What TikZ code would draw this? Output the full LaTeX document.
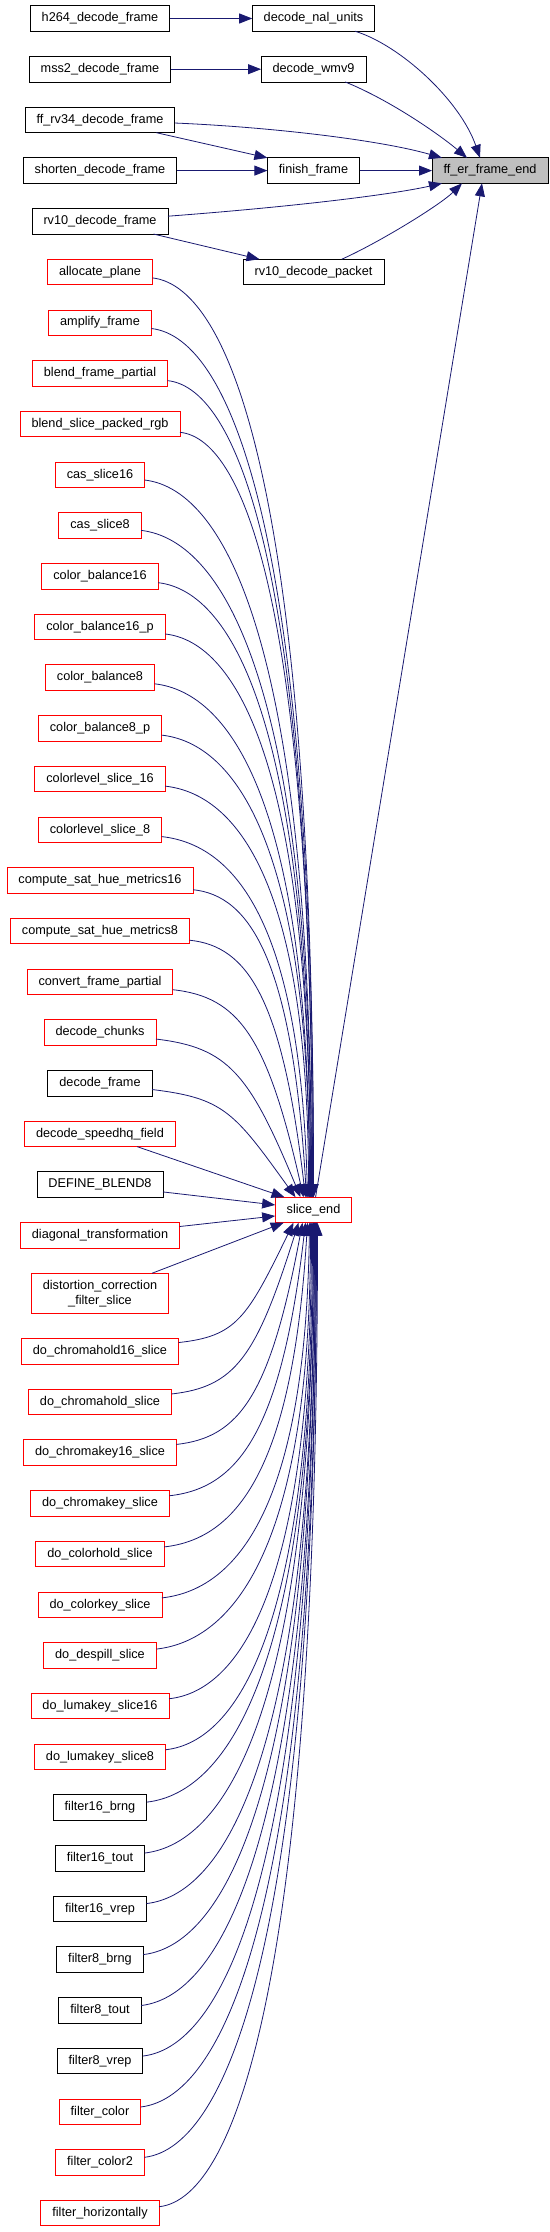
\documentclass[tikz,border=0pt]{standalone}
\usepackage{fontspec}
\setmainfont{Liberation Sans}
\usepackage{xcolor}
\definecolor{edgeblue}{HTML}{191970}
\definecolor{rootgrey}{HTML}{BFBFBF}
\definecolor{trunc}{HTML}{FF0000}
\usepackage{tikz}
\usetikzlibrary{positioning, calc, arrows.meta}

\begin{document}
\begin{tikzpicture}[
    x=1pt, y=1pt,
    node distance=25.2pt,
    func/.style={rectangle, draw=black, fill=white, line width=0.9pt, outer sep=0pt, inner xsep=11.5pt, minimum height=25.5pt, font=\fontsize{12.7}{15.2}\selectfont},
    funcred/.style={func, draw=trunc},
    rootfunc/.style={func, fill=rootgrey},
    callarrow/.style={-{Triangle[length=13pt, width=10pt]}, line width=0.8pt, edgeblue}
  ]
  \useasboundingbox (0,0) rectangle (549,-2232);
  \coordinate (midcol) at (313.5,0);
  \coordinate (rightcol) at (490,0);

  % Left column
  \node[func] (h264) at (100,-18.5) {h264\_decode\_frame};
  \node[func, below=of h264] (mss2) {mss2\_decode\_frame};
  \node[func, below=of mss2] (rv34) {ff\_rv34\_decode\_frame};
  \node[func, below=of rv34] (shorten) {shorten\_decode\_frame};
  \node[func, below=of shorten] (rv10frame) {rv10\_decode\_frame};
  \node[funcred, below=of rv10frame] (allocplane) {allocate\_plane};
  \node[funcred, below=of allocplane] (amplify) {amplify\_frame};
  \node[funcred, below=of amplify] (blendframe) {blend\_frame\_partial};
  \node[funcred, below=of blendframe] (blendslice) {blend\_slice\_packed\_rgb};
  \node[funcred, below=of blendslice] (cas16) {cas\_slice16};
  \node[funcred, below=of cas16] (cas8) {cas\_slice8};
  \node[funcred, below=of cas8] (cb16) {color\_balance16};
  \node[funcred, below=of cb16] (cb16p) {color\_balance16\_p};
  \node[funcred, below=of cb16p] (cb8) {color\_balance8};
  \node[funcred, below=of cb8] (cb8p) {color\_balance8\_p};
  \node[funcred, below=of cb8p] (cl16) {colorlevel\_slice\_16};
  \node[funcred, below=of cl16] (cl8) {colorlevel\_slice\_8};
  \node[funcred, below=of cl8] (sat16) {compute\_sat\_hue\_metrics16};
  \node[funcred, below=of sat16] (sat8) {compute\_sat\_hue\_metrics8};
  \node[funcred, below=of sat8] (convframe) {convert\_frame\_partial};
  \node[funcred, below=of convframe] (chunks) {decode\_chunks};
  \node[func, below=of chunks] (decframe) {decode\_frame};
  \node[funcred, below=of decframe] (speedhq) {decode\_speedhq\_field};
  \node[func, below=of speedhq] (blend8) {DEFINE\_BLEND8};
  \node[funcred, below=of blend8] (diagtrans) {diagonal\_transformation};
  \node[funcred, below=of diagtrans, align=center, minimum height=40pt] (distort) {distortion\_correction\\\_filter\_slice};
  \node[funcred, below=of distort] (chromahold16) {do\_chromahold16\_slice};
  \node[funcred, below=of chromahold16] (chromahold) {do\_chromahold\_slice};
  \node[funcred, below=of chromahold] (chromakey16) {do\_chromakey16\_slice};
  \node[funcred, below=of chromakey16] (chromakey) {do\_chromakey\_slice};
  \node[funcred, below=of chromakey] (colorhold) {do\_colorhold\_slice};
  \node[funcred, below=of colorhold] (colorkey) {do\_colorkey\_slice};
  \node[funcred, below=of colorkey] (despill) {do\_despill\_slice};
  \node[funcred, below=of despill] (lumakey16) {do\_lumakey\_slice16};
  \node[funcred, below=of lumakey16] (lumakey8) {do\_lumakey\_slice8};
  \node[func, below=of lumakey8] (fbrng16) {filter16\_brng};
  \node[func, below=of fbrng16] (ftout16) {filter16\_tout};
  \node[func, below=of ftout16] (fvrep16) {filter16\_vrep};
  \node[func, below=of fvrep16] (fbrng8) {filter8\_brng};
  \node[func, below=of fbrng8] (ftout8) {filter8\_tout};
  \node[func, below=of ftout8] (fvrep8) {filter8\_vrep};
  \node[funcred, below=of fvrep8] (fcolor) {filter\_color};
  \node[funcred, below=of fcolor] (fcolor2) {filter\_color2};
  \node[funcred, below=of fcolor2] (fhoriz) {filter\_horizontally};

  % Middle and right columns
  \node[func] (decnal) at (h264 -| midcol) {decode\_nal\_units};
  \node[func] (wmv9) at (mss2 -| midcol) {decode\_wmv9};
  \node[func] (finish) at (shorten -| midcol) {finish\_frame};
  \node[func] (rv10pkt) at (allocplane -| midcol) {rv10\_decode\_packet};
  \coordinate (slicemid) at ($(blend8)!0.5!(diagtrans)$);
  \node[funcred] (sliceend) at (slicemid -| midcol) {slice\_end};
  \node[rootfunc] (ererend) at (shorten -| rightcol) {ff\_er\_frame\_end};

  % Calls into ff_er_frame_end
  \draw[callarrow] (h264) -- (decnal);
  \draw[callarrow] (decnal) .. controls (400,-45) and (460,-100) .. ([xshift=-10]ererend.north);
  \draw[callarrow] (mss2) -- (wmv9);
  \draw[callarrow] (wmv9) .. controls (390,-100) and (440,-135) .. ([xshift=-23]ererend.north);
  \draw[callarrow] (rv34) .. controls (270,-127) and (380,-140) .. ([xshift=-48]ererend.north);
  \draw[callarrow] (rv34) -- (finish.north west);
  \draw[callarrow] (shorten) -- (finish);
  \draw[callarrow] (finish) -- (ererend);
  \draw[callarrow] (rv10frame) .. controls (290,-207) and (390,-195) .. ([xshift=-48]ererend.south);
  \draw[callarrow] (rv10frame) -- ([xshift=-54]rv10pkt.north);
  \draw[callarrow] (rv10pkt) .. controls (380,-242) and (440,-205) .. ([xshift=-28]ererend.south);
  \draw[callarrow] (sliceend) -- ([xshift=-8]ererend.south);

  % Calls into slice_end
  \foreach \src/\tipx in {allocplane/0, amplify/0, blendframe/-1, blendslice/-1, cas16/-2, cas8/-2,
      cb16/-3, cb16p/-3, cb8/-4, cb8p/-4, cl16/-5, cl8/-6, sat16/-7, sat8/-8, convframe/-10,
      chunks/-13, decframe/-18}
    \draw[callarrow] let \p1=(\src.east), \p2=([xshift=\tipx]sliceend.north),
        \n1={\x2-\x1}, \n2={\y1-\y2}, \n3={0.6*\n1*max(0,1-\n2/400)} in
      (\src) .. controls ($(\p1)+(0.5*\n1,-15)$) and ($(\p2)+(-\n3,0.75*\n2)$) .. (\p2);
  \draw[callarrow] (speedhq) -- ([xshift=-29]sliceend.north);
  \draw[callarrow] (blend8) -- ([yshift=5]sliceend.west);
  \draw[callarrow] (diagtrans) -- ([yshift=-6]sliceend.west);
  \draw[callarrow] (distort) -- ([xshift=8.5]sliceend.south west);
  \foreach \src/\tipx in {chromahold16/-20, chromahold/-15, chromakey16/-11, chromakey/-8,
      colorhold/-6, colorkey/-4, despill/-3, lumakey16/-2, lumakey8/-1, fbrng16/0, ftout16/0,
      fvrep16/1, fbrng8/1, ftout8/2, fvrep8/2, fcolor/3, fcolor2/3, fhoriz/4}
    \draw[callarrow] let \p1=(\src.east), \p2=([xshift=\tipx]sliceend.south),
        \n1={\x2-\x1}, \n2={\y2-\y1}, \n3={0.6*\n1*max(0,1-\n2/400)} in
      (\src) .. controls ($(\p1)+(0.5*\n1,15)$) and ($(\p2)+(-\n3,-0.75*\n2)$) .. (\p2);
\end{tikzpicture}
\end{document}
